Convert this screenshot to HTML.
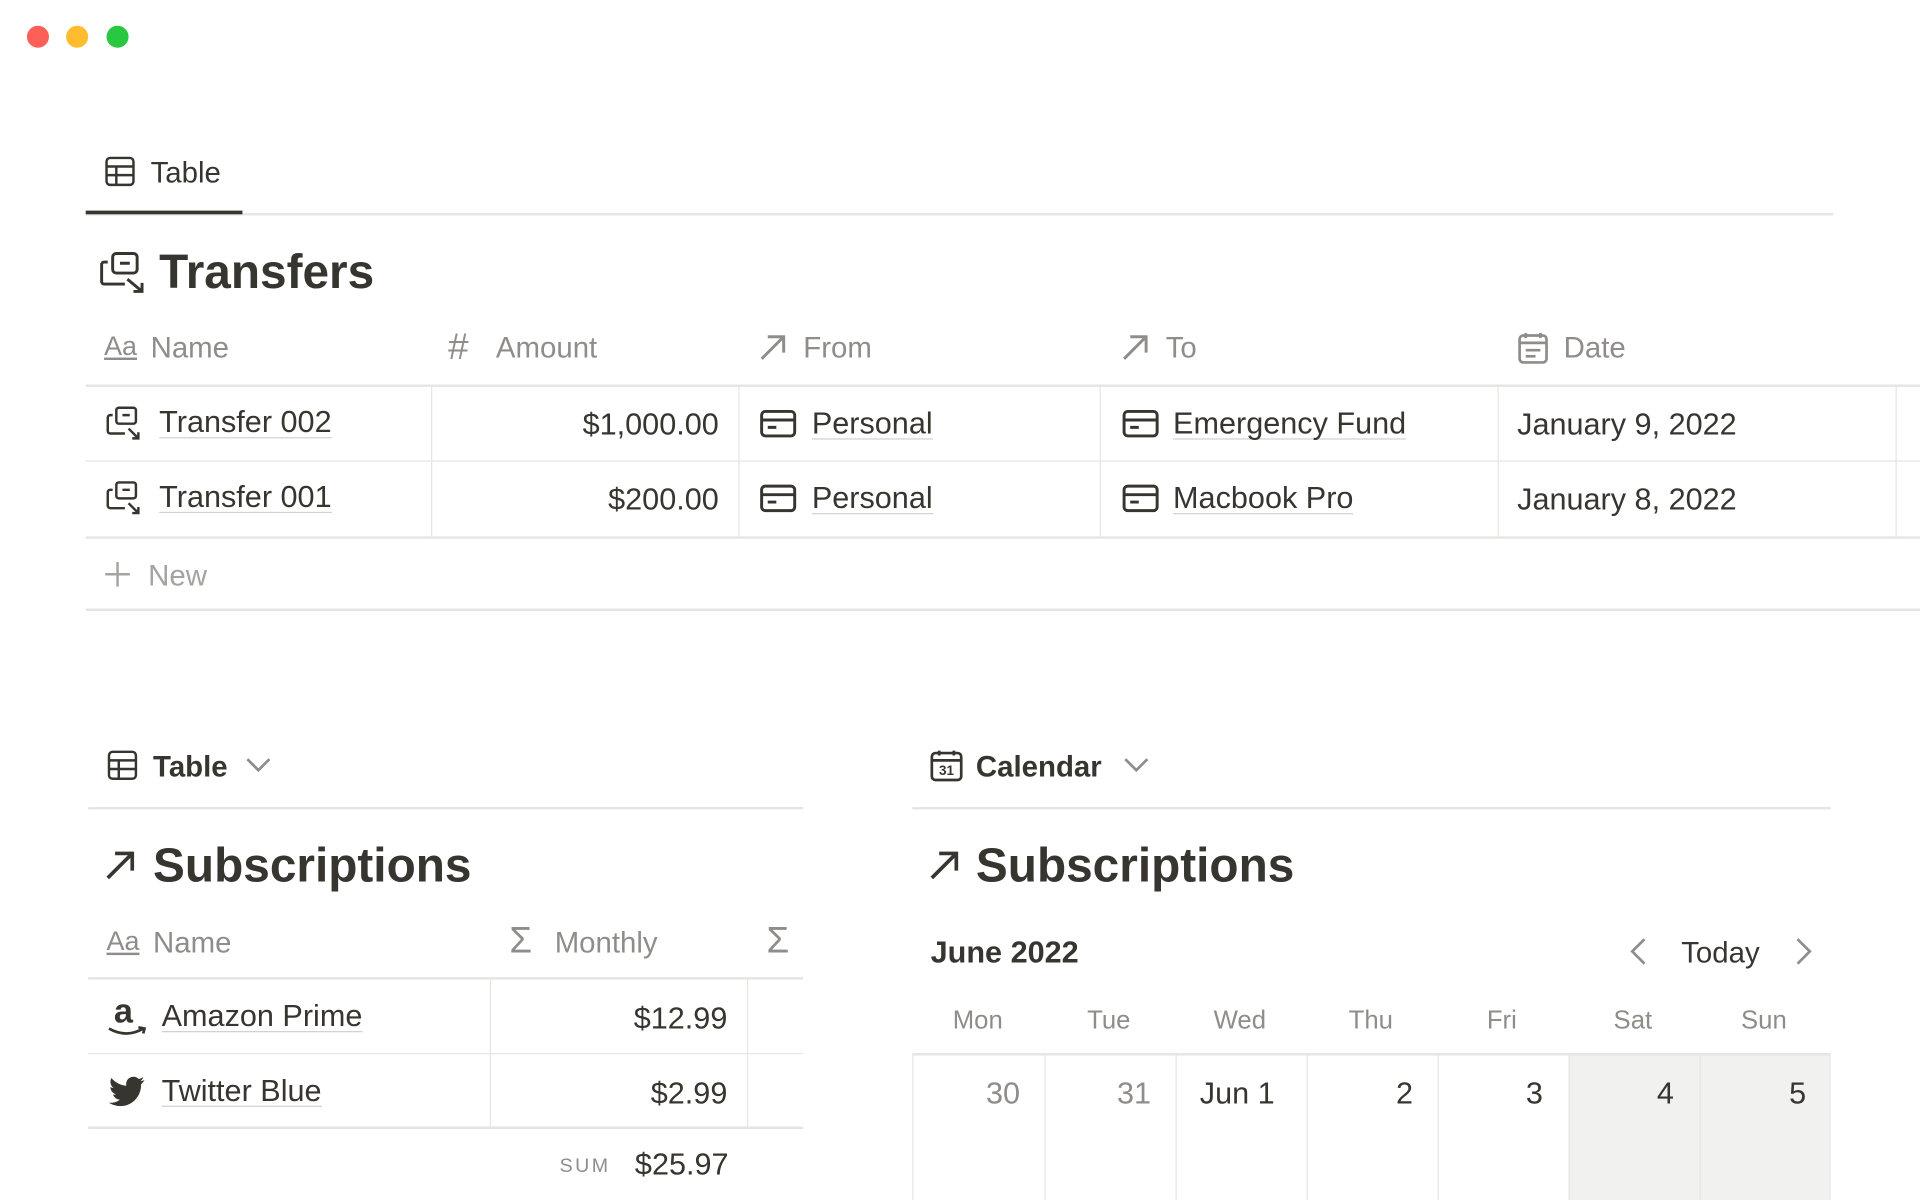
<!DOCTYPE html>
<html><head><meta charset="utf-8"><style>
html,body{margin:0;padding:0;background:#fff;width:1920px;height:1200px;overflow:hidden}
#w{position:absolute;left:0;top:0;width:1568px;height:980px;transform:scale(1.22449);transform-origin:0 0;font-family:"Liberation Sans",sans-serif;color:#37352f}
.a{position:absolute;white-space:nowrap}
.l{position:absolute;background:#e6e5e2}
.g{color:#8f8d89}
.u{border-bottom:1.5px solid #d3d2ce;line-height:24px}
svg{position:absolute;overflow:visible}
</style></head><body><div id="w">
<div class="a" style="left:22px;top:21px;width:18px;height:18px;border-radius:50%;background:#fe5f57"></div>
<div class="a" style="left:54px;top:21px;width:18px;height:18px;border-radius:50%;background:#febc2e"></div>
<div class="a" style="left:87px;top:21px;width:18px;height:18px;border-radius:50%;background:#28c840"></div>

<svg style="left:86px;top:128px" width="24" height="24" fill="none" stroke="#37352f" stroke-width="2"><rect x="1" y="1" width="22" height="22" rx="3"/><path d="M1 8h22M1 15h22M9 8v15"/></svg>
<div class="a" style="left:123px;top:128px;font-size:24px">Table</div>
<div class="l" style="left:70px;top:174px;width:1427px;height:2px"></div>
<div class="a" style="left:70px;top:172px;width:128px;height:3px;background:#37352f"></div>

<svg style="left:82px;top:206px" width="38" height="34" fill="none" stroke="#37352f" stroke-width="2.4"><rect x="10" y="1" width="20" height="16" rx="3"/><path d="M6 8H3a2 2 0 0 0-2 2v14a2 2 0 0 0 2 2h17M16 9h8M22 22l12 10M27 32h7v-7"/></svg>
<div class="a" style="left:130px;top:201px;font-size:39px;font-weight:bold">Transfers</div>

<div class="a g" style="left:85px;top:270px;font-size:22px;text-decoration:underline">Aa</div>
<div class="a g" style="left:123px;top:271px;font-size:24px">Name</div>
<div class="a g" style="left:366px;top:267px;font-size:30px">#</div>
<div class="a g" style="left:405px;top:271px;font-size:24px">Amount</div>
<svg style="left:620px;top:272px" width="22" height="22" fill="none" stroke="#8f8d89" stroke-width="2.4"><path d="M2 21L20 3M7 3h13v13"/></svg>
<div class="a g" style="left:656px;top:271px;font-size:24px">From</div>
<svg style="left:916px;top:272px" width="22" height="22" fill="none" stroke="#8f8d89" stroke-width="2.4"><path d="M2 21L20 3M7 3h13v13"/></svg>
<div class="a g" style="left:952px;top:271px;font-size:24px">To</div>
<svg style="left:1240px;top:271px" width="24" height="26" fill="none" stroke="#8f8d89" stroke-width="2.2"><rect x="1" y="3" width="22" height="22" rx="3"/><path d="M1 9h22M6 1v4M18 1v4M6 15h12M6 20h8"/></svg>
<div class="a g" style="left:1277px;top:271px;font-size:24px">Date</div>

<div class="l" style="left:70px;top:314px;width:1498px;height:2px"></div>
<div class="l" style="left:70px;top:376px;width:1498px;height:1px"></div>
<div class="l" style="left:70px;top:438px;width:1498px;height:2px"></div>
<div class="l" style="left:70px;top:497px;width:1498px;height:2px"></div>
<div class="l" style="left:352px;top:315px;width:1px;height:123px"></div>
<div class="l" style="left:603px;top:315px;width:1px;height:123px"></div>
<div class="l" style="left:898px;top:315px;width:1px;height:123px"></div>
<div class="l" style="left:1223px;top:315px;width:1px;height:123px"></div>
<div class="l" style="left:1548px;top:315px;width:1px;height:123px"></div>

<svg style="left:87px;top:332px" width="30" height="28" fill="none" stroke="#37352f" stroke-width="2"><rect x="8" y="1" width="16" height="13" rx="2"/><path d="M5 7H3a2 2 0 0 0-2 2v11a2 2 0 0 0 2 2h12M13 7h6M18 18l8 8M21 26h5v-5"/></svg>
<div class="a u" style="left:130px;top:333px;font-size:25px">Transfer 002</div>
<div class="a" style="right:981px;top:333px;font-size:25px">$1,000.00</div>
<svg style="left:621px;top:335px" width="30" height="22" fill="none" stroke="#37352f" stroke-width="2.4"><rect x="1" y="1" width="27" height="20" rx="3"/><path d="M1 8h27M6 14h7"/></svg>
<div class="a u" style="left:663px;top:334px;font-size:25px">Personal</div>
<svg style="left:917px;top:335px" width="30" height="22" fill="none" stroke="#37352f" stroke-width="2.4"><rect x="1" y="1" width="27" height="20" rx="3"/><path d="M1 8h27M6 14h7"/></svg>
<div class="a u" style="left:958px;top:334px;font-size:25px">Emergency Fund</div>
<div class="a" style="left:1239px;top:333px;font-size:25px">January 9, 2022</div>

<svg style="left:87px;top:393px" width="30" height="28" fill="none" stroke="#37352f" stroke-width="2"><rect x="8" y="1" width="16" height="13" rx="2"/><path d="M5 7H3a2 2 0 0 0-2 2v11a2 2 0 0 0 2 2h12M13 7h6M18 18l8 8M21 26h5v-5"/></svg>
<div class="a u" style="left:130px;top:394px;font-size:25px">Transfer 001</div>
<div class="a" style="right:981px;top:394px;font-size:25px">$200.00</div>
<svg style="left:621px;top:396px" width="30" height="22" fill="none" stroke="#37352f" stroke-width="2.4"><rect x="1" y="1" width="27" height="20" rx="3"/><path d="M1 8h27M6 14h7"/></svg>
<div class="a u" style="left:663px;top:395px;font-size:25px">Personal</div>
<svg style="left:917px;top:396px" width="30" height="22" fill="none" stroke="#37352f" stroke-width="2.4"><rect x="1" y="1" width="27" height="20" rx="3"/><path d="M1 8h27M6 14h7"/></svg>
<div class="a u" style="left:958px;top:395px;font-size:25px">Macbook Pro</div>
<div class="a" style="left:1239px;top:394px;font-size:25px">January 8, 2022</div>

<svg style="left:86px;top:459px" width="20" height="20" stroke="#a5a39f" stroke-width="2"><path d="M10 0v20M0 10h20"/></svg>
<div class="a" style="left:121px;top:457px;font-size:24px;color:#a5a39f">New</div>

<svg style="left:88px;top:613px" width="24" height="24" fill="none" stroke="#37352f" stroke-width="2"><rect x="1" y="1" width="22" height="22" rx="3"/><path d="M1 8h22M1 15h22M9 8v15"/></svg>
<div class="a" style="left:125px;top:613px;font-size:24px;font-weight:bold">Table</div>
<svg style="left:201px;top:619px" width="20" height="12" fill="none" stroke="#8f8d89" stroke-width="2.2"><path d="M1 1l9 9 9-9"/></svg>
<div class="l" style="left:72px;top:659px;width:584px;height:2px"></div>
<svg style="left:86px;top:695px" width="24" height="24" fill="none" stroke="#37352f" stroke-width="3"><path d="M2 22L22 2M8 2h14v14"/></svg>
<div class="a" style="left:125px;top:686px;font-size:39px;font-weight:bold">Subscriptions</div>

<div class="a g" style="left:87px;top:756px;font-size:22px;text-decoration:underline">Aa</div>
<div class="a g" style="left:125px;top:757px;font-size:24px">Name</div>
<div class="a g" style="left:416px;top:752px;font-size:30px">Σ</div>
<div class="a g" style="left:453px;top:757px;font-size:24px">Monthly</div>
<div class="a g" style="left:626px;top:752px;font-size:30px">Σ</div>
<div class="l" style="left:72px;top:798px;width:584px;height:2px"></div>
<div class="l" style="left:72px;top:860px;width:584px;height:1px"></div>
<div class="l" style="left:72px;top:920px;width:584px;height:2px"></div>
<div class="l" style="left:400px;top:800px;width:1px;height:120px"></div>
<div class="l" style="left:610px;top:800px;width:1px;height:120px"></div>

<div class="a" style="left:93px;top:810px;font-size:28px;font-weight:bold">a</div>
<svg style="left:88px;top:838px" width="34" height="10" fill="none" stroke="#37352f" stroke-width="2.2"><path d="M1 2q14 8 28 0M25 1l5 1-1 4"/></svg>
<div class="a u" style="left:132px;top:818px;font-size:25px">Amazon Prime</div>
<div class="a" style="right:974px;top:818px;font-size:25px">$12.99</div>
<svg style="left:89px;top:879px" width="30" height="24"><path fill="#37352f" d="M29 3c-1 .5-2 .8-3.4 1 1.2-.8 2-2 2.5-3.3-1.2.7-2.4 1.2-3.7 1.5C23.3 1 21.8.3 20 .3c-3.3 0-6 2.7-6 6 0 .5 0 1 .2 1.4C9.3 7.4 5 5 2 1.4 1.5 2.3 1.2 3.4 1.2 4.5c0 2 1 3.9 2.7 5-1 0-2-.3-2.7-.8 0 3 2 5.4 4.8 6-.5.1-1 .2-1.6.2-.4 0-.8 0-1.1-.1.8 2.4 3 4.1 5.6 4.2-2 1.6-4.7 2.6-7.5 2.6H0c2.7 1.7 5.8 2.7 9.2 2.7 11 0 17-9.1 17-17v-.8C27.4 5.3 28.3 4.3 29 3z"/></svg>
<div class="a u" style="left:132px;top:879px;font-size:25px">Twitter Blue</div>
<div class="a" style="right:974px;top:879px;font-size:25px">$2.99</div>
<div class="a g" style="left:457px;top:944px;font-size:16px;letter-spacing:2px">SUM</div>
<div class="a" style="right:973px;top:937px;font-size:25px">$25.97</div>

<svg style="left:760px;top:612px" width="26" height="26" fill="none" stroke="#37352f" stroke-width="2.2"><rect x="1" y="3" width="24" height="22" rx="3"/><path d="M1 9h24M7 1v4M19 1v4"/><text x="13" y="21" font-size="11" font-weight="bold" text-anchor="middle" fill="#37352f" stroke="none" font-family="Liberation Sans">31</text></svg>
<div class="a" style="left:797px;top:613px;font-size:24px;font-weight:bold">Calendar</div>
<svg style="left:918px;top:619px" width="20" height="12" fill="none" stroke="#8f8d89" stroke-width="2.2"><path d="M1 1l9 9 9-9"/></svg>
<div class="l" style="left:745px;top:659px;width:750px;height:2px"></div>
<svg style="left:759px;top:695px" width="24" height="24" fill="none" stroke="#37352f" stroke-width="3"><path d="M2 22L22 2M8 2h14v14"/></svg>
<div class="a" style="left:797px;top:686px;font-size:39px;font-weight:bold">Subscriptions</div>
<div class="a" style="left:760px;top:764px;font-size:25px;font-weight:bold">June 2022</div>
<svg style="left:1332px;top:766px" width="12" height="22" fill="none" stroke="#8f8d89" stroke-width="2.2"><path d="M11 1L1 11l10 10"/></svg>
<div class="a" style="left:1373px;top:765px;font-size:24px">Today</div>
<svg style="left:1467px;top:766px" width="12" height="22" fill="none" stroke="#8f8d89" stroke-width="2.2"><path d="M1 1l10 10L1 21"/></svg>

<div class="a" style="left:1281px;top:861px;width:214px;height:119px;background:#f1f1ef"></div>
<div class="l" style="left:745px;top:860px;width:750px;height:2px"></div>
<div class="l" style="left:745px;top:861px;width:1px;height:119px"></div>
<div class="l" style="left:853px;top:861px;width:1px;height:119px"></div>
<div class="l" style="left:960px;top:861px;width:1px;height:119px"></div>
<div class="l" style="left:1067px;top:861px;width:1px;height:119px"></div>
<div class="l" style="left:1174px;top:861px;width:1px;height:119px"></div>
<div class="l" style="left:1281px;top:861px;width:1px;height:119px"></div>
<div class="l" style="left:1388px;top:861px;width:1px;height:119px"></div>
<div class="l" style="left:1494px;top:861px;width:1px;height:119px"></div>

<div class="a g" style="left:745px;width:107px;text-align:center;top:822px;font-size:21px">Mon</div>
<div class="a g" style="left:852px;width:107px;text-align:center;top:822px;font-size:21px">Tue</div>
<div class="a g" style="left:959px;width:107px;text-align:center;top:822px;font-size:21px">Wed</div>
<div class="a g" style="left:1066px;width:107px;text-align:center;top:822px;font-size:21px">Thu</div>
<div class="a g" style="left:1173px;width:107px;text-align:center;top:822px;font-size:21px">Fri</div>
<div class="a g" style="left:1280px;width:107px;text-align:center;top:822px;font-size:21px">Sat</div>
<div class="a g" style="left:1387px;width:107px;text-align:center;top:822px;font-size:21px">Sun</div>

<div class="a g" style="right:735px;top:879px;font-size:25px">30</div>
<div class="a g" style="right:628px;top:879px;font-size:25px">31</div>
<div class="a" style="right:527px;top:879px;font-size:25px">Jun 1</div>
<div class="a" style="right:414px;top:879px;font-size:25px">2</div>
<div class="a" style="right:308px;top:879px;font-size:25px">3</div>
<div class="a" style="right:201px;top:879px;font-size:25px">4</div>
<div class="a" style="right:93px;top:879px;font-size:25px">5</div>
</div></body></html>
